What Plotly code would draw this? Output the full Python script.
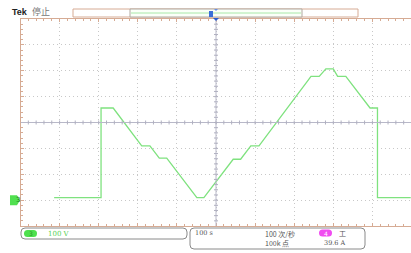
import plotly.graph_objects as go

# Waveform (time in s, 100 s/div; voltage in V, 100 V/div, ground at -3 div)
time_s = [86, 206, 206, 237, 310, 331, 355, 374, 451, 469, 544, 563, 589, 610,
          743, 764, 781, 800, 811, 832, 894, 913, 913, 998]
volts = [10, 10, 356, 356, 210, 210, 162, 162, 10, 10, 158, 158, 210, 210,
         478, 478, 507, 507, 478, 478, 356, 356, 10, 10]

top_status = ["Tek", "停止"]
ch3_label = ["3", "100 V"]
timebase = "100 s"
rate_lines = ["100 次/秒", "100k 点"]
trig_info = ["4", "工", "39.6 A"]

W, H = 411, 253
X0, X1 = 20.5, 411.5   # plot left/right px (10 div)
Y0, Y1 = 19.0, 226.0   # plot top/bottom px (8 div)
DIVX = (X1 - X0) / 10
DIVY = (Y1 - Y0) / 8

def px(x):
    return x / W

def py(y):
    return 1 - y / H

TAN = "#d6ab94"
GRID = "#c8c8c8"
GREEN = "#7fe27f"
TXT = "#555555"

fig = go.Figure()
fig.add_trace(go.Scatter(x=time_s, y=volts, mode="lines",
                         line=dict(color=GREEN, width=1.3), hoverinfo="skip"))

shapes = []
# centre crosshair
shapes.append(dict(type="line", xref="x", yref="y", x0=500, x1=500, y0=-100, y1=700,
                   line=dict(color="#b8b8c8", width=1)))
shapes.append(dict(type="line", xref="x", yref="y", x0=0, x1=1000, y0=300, y1=300,
                   line=dict(color="#b8b8c8", width=1)))
for i in range(1, 50):
    xt = i * 20
    shapes.append(dict(type="line", xref="x", yref="paper", x0=xt, x1=xt,
                       y0=py(122.5 + 2), y1=py(122.5 - 2), line=dict(color="#b0b0c0", width=1)))
for i in range(1, 40):
    yt = -100 + i * 20
    shapes.append(dict(type="line", xref="paper", yref="y", x0=px(216 - 2), x1=px(216 + 2),
                       y0=yt, y1=yt, line=dict(color="#b0b0c0", width=1)))

# top record bar
shapes.append(dict(type="rect", xref="paper", yref="paper", x0=px(73), x1=px(358),
                   y0=py(17), y1=py(9), line=dict(color=TAN, width=1), fillcolor="white"))
shapes.append(dict(type="rect", xref="paper", yref="paper", x0=px(130), x1=px(302),
                   y0=py(17), y1=py(9), line=dict(color="#b0a8a0", width=1), fillcolor="#fbfff8"))
shapes.append(dict(type="line", xref="paper", yref="paper", x0=px(131), x1=px(301),
                   y0=py(13), y1=py(13), line=dict(color="#a8e8a8", width=1)))
# trigger position marker
shapes.append(dict(type="rect", xref="paper", yref="paper", x0=px(209), x1=px(213),
                   y0=py(17), y1=py(11), line=dict(width=0), fillcolor="#3a6fd8"))
shapes.append(dict(type="path", xref="paper", yref="paper",
                   path=f"M {px(213)} {py(18)} L {px(219)} {py(18)} L {px(216)} {py(21)} Z",
                   line=dict(width=0), fillcolor="#2a5fd0"))
shapes.append(dict(type="path", xref="paper", yref="paper",
                   path=f"M {px(214)} {py(9)} L {px(218)} {py(9)} L {px(216)} {py(11)} Z",
                   line=dict(width=0), fillcolor="#6a8fe0"))

# ground marker for channel 3
gy = Y0 + 7 * DIVY
shapes.append(dict(type="path", xref="paper", yref="paper",
                   path=(f"M {px(10)} {py(gy-5)} L {px(17)} {py(gy-5)} L {px(20)} {py(gy)} "
                         f"L {px(17)} {py(gy+5)} L {px(10)} {py(gy+5)} Z"),
                   line=dict(width=0), fillcolor="#50e050"))

# bottom readout boxes
def rbox(x0, y0, x1, y1, r=4):
    return (f"M {px(x0+r)} {py(y0)} L {px(x1-r)} {py(y0)} Q {px(x1)} {py(y0)} {px(x1)} {py(y0+r)} "
            f"L {px(x1)} {py(y1-r)} Q {px(x1)} {py(y1)} {px(x1-r)} {py(y1)} "
            f"L {px(x0+r)} {py(y1)} Q {px(x0)} {py(y1)} {px(x0)} {py(y1-r)} "
            f"L {px(x0)} {py(y0+r)} Q {px(x0)} {py(y0)} {px(x0+r)} {py(y0)} Z")

shapes.append(dict(type="path", xref="paper", yref="paper", path=rbox(21, 228, 187, 239),
                   line=dict(color="#8a8a8a", width=1)))
shapes.append(dict(type="path", xref="paper", yref="paper", path=rbox(190, 228, 365, 249),
                   line=dict(color="#8a8a8a", width=1)))
shapes.append(dict(type="path", xref="paper", yref="paper", path=rbox(24, 230, 37, 237, 3.5),
                   line=dict(width=0), fillcolor="#4ee04e"))
shapes.append(dict(type="path", xref="paper", yref="paper", path=rbox(319, 229.5, 332, 236.5, 3.5),
                   line=dict(width=0), fillcolor="#f04cf0"))

ann = []
def txt(x, y, s, size=7, color=TXT, anchor="left", family="Noto Sans CJK SC", bold=False):
    ann.append(dict(xref="paper", yref="paper", x=px(x), y=py(y), text=f"<b>{s}</b>" if bold else s,
                    showarrow=False, xanchor=anchor, yanchor="middle",
                    font=dict(size=size, color=color, family=family)))

txt(10, 12, top_status[0], size=9, color="#222222", family="Liberation Sans", bold=True)
txt(30, 12, top_status[1], size=9, color="#777777")
txt(13.5, gy, ch3_label[0], size=7, color="#1a7a1a", family="DejaVu Sans")
txt(30.5, 233.5, ch3_label[0], size=6, color="#2a9a2a", anchor="center", family="DejaVu Sans")
txt(46, 233.5, ch3_label[1], size=7, color="#55d055", family="DejaVu Serif")
txt(193, 233, timebase, size=6.5, color=TXT, family="DejaVu Serif")
txt(263, 233.5, rate_lines[0], size=7, color=TXT)
txt(263, 243, rate_lines[1], size=7, color=TXT)
txt(325.5, 233, trig_info[0], size=6, color="white", anchor="center", family="DejaVu Sans")
txt(337, 233, trig_info[1], size=7, color=TXT)
txt(322, 243, trig_info[2], size=6.5, color=TXT, family="DejaVu Serif")

fig.update_layout(
    width=W, height=H, margin=dict(l=0, r=0, t=0, b=0),
    paper_bgcolor="white", plot_bgcolor="white", showlegend=False,
    shapes=shapes, annotations=ann,
    xaxis=dict(domain=[px(X0), 1.0], range=[0, (W - X0) / DIVX * 100], showticklabels=False,
               dtick=100, tick0=0, showgrid=True, gridcolor=GRID, griddash="1px,3px", gridwidth=1,
               zeroline=False, showline=True, linecolor=TAN, mirror="allticks",
               ticks="inside", ticklen=3, tickcolor=TAN,
               minor=dict(dtick=20, ticks="inside", ticklen=2, tickcolor=TAN, showgrid=False)),
    yaxis=dict(domain=[py(Y1), py(Y0)], range=[-100, 700], showticklabels=False,
               dtick=100, tick0=0, showgrid=True, gridcolor=GRID, griddash="1px,3px", gridwidth=1,
               zeroline=False, showline=True, linecolor=TAN, mirror=False,
               ticks="inside", ticklen=3, tickcolor=TAN,
               minor=dict(dtick=20, ticks="inside", ticklen=2, tickcolor=TAN, showgrid=False)),
)

fig.write_html("out.html", config={"displayModeBar": False},
               post_script="document.body.style.margin='0';document.body.style.overflow='hidden';")
